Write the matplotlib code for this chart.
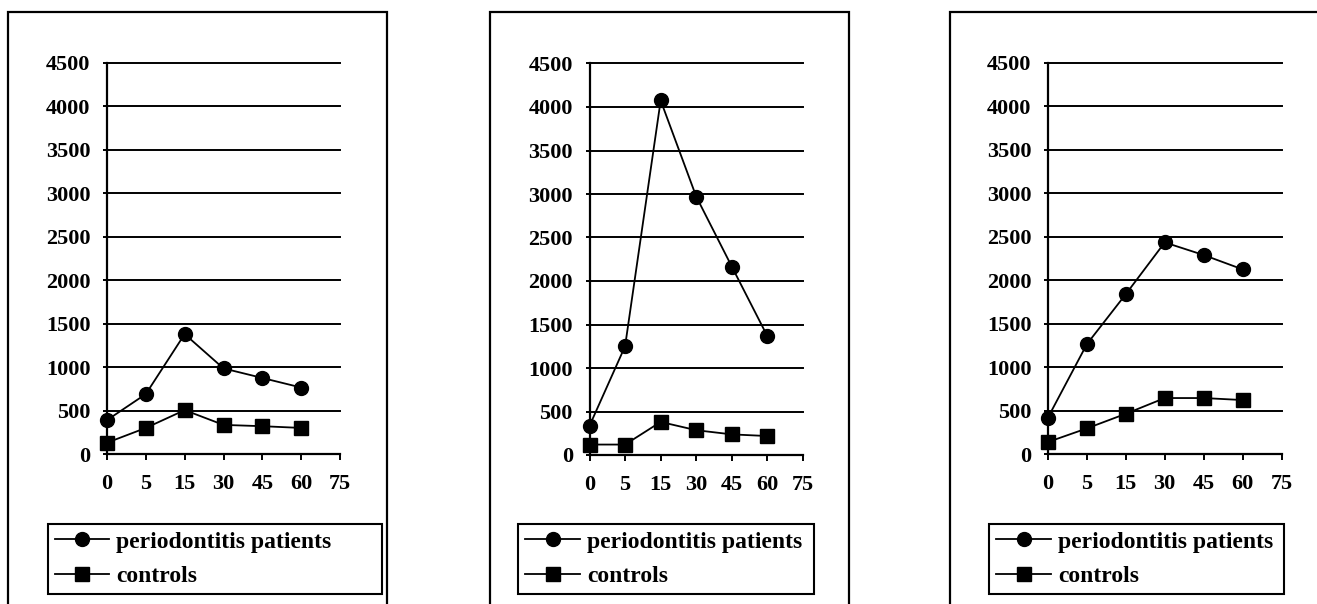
import matplotlib.pyplot as plt
from matplotlib.patches import Rectangle

# Data
time_labels = ['0', '5', '15', '30', '45', '60', '75']
patients_1 = [390, 690, 1380, 985, 875, 765]
controls_1 = [130, 300, 505, 335, 320, 300]
patients_2 = [335, 1250, 4075, 2970, 2165, 1365]
controls_2 = [120, 120, 380, 285, 237, 218]
patients_3 = [420, 1265, 1840, 2435, 2290, 2125]
controls_3 = [138, 295, 463, 644, 644, 621]
y_ticks = list(range(0, 4501, 500))

W, H = 1317, 604
plt.rcParams['font.family'] = ['Liberation Serif', 'DejaVu Serif']
plt.rcParams['font.weight'] = 'bold'

fig = plt.figure(figsize=(W / 100, H / 100), dpi=100)

# pixel layout: axes box, outer frame, legend box
panels = [
    dict(ax=(107, 340, 63, 454), frame=(8, 387), leg=(48, 382.5, 524, 593),
         p=patients_1, c=controls_1),
    dict(ax=(589.5, 803, 63.5, 455), frame=(490, 849), leg=(518.3, 814.3, 524, 593),
         p=patients_2, c=controls_2),
    dict(ax=(1048, 1281.5, 63, 454), frame=(950, 1340), leg=(989.3, 1284.3, 524, 593),
         p=patients_3, c=controls_3),
]


def fx(px):
    return px / W


def fy(py):
    return 1 - py / H


for pan in panels:
    l, r, t, b = pan['ax']
    fl, fr = pan['frame']
    fig.patches.append(Rectangle((fx(fl), fy(H + 20)), fx(fr) - fx(fl), fy(12) - fy(H + 20),
                                 transform=fig.transFigure, fill=False,
                                 edgecolor='black', linewidth=1.6))

    ax = fig.add_axes([fx(l), fy(b), fx(r) - fx(l), fy(t) - fy(b)])
    x = list(range(len(pan['p'])))
    ax.plot(x, pan['p'], color='black', lw=1.3, marker='o', ms=10, clip_on=False, zorder=4,
            label='periodontitis patients')
    ax.plot(x, pan['c'], color='black', lw=1.3, marker='s', ms=10, clip_on=False, zorder=4,
            label='controls')

    ax.set_xlim(0, len(time_labels) - 1)
    ax.set_ylim(0, 4500)
    ax.set_xticks(range(len(time_labels)))
    ax.set_xticklabels(time_labels)
    ax.set_yticks(y_ticks)
    for s in ['top', 'right']:
        ax.spines[s].set_visible(False)
    for s in ['left', 'bottom']:
        ax.spines[s].set_linewidth(1.6)
    ax.grid(axis='y', color='black', lw=1.4)
    for gl in ax.get_ygridlines():
        gl.set_clip_on(False)
    ax.set_axisbelow(True)
    ax.tick_params(axis='y', direction='out', length=3, width=1.4, pad=9, labelsize=16)
    ax.tick_params(axis='x', direction='out', length=4.3, width=1.4, pad=10, labelsize=16)

    ll, lr, lt, lb = pan['leg']
    leg = ax.legend(loc='upper left',
                    bbox_to_anchor=(fx(ll), fy(lb), fx(lr) - fx(ll), fy(lt) - fy(lb)),
                    bbox_transform=fig.transFigure, mode='expand', borderaxespad=0,
                    fancybox=False, framealpha=1, edgecolor='black', fontsize=17,
                    handlelength=2.3, handletextpad=0.3, labelspacing=0.55, borderpad=0.3)
    leg.get_frame().set_linewidth(1.5)

fig.savefig('out.png', dpi=100)
